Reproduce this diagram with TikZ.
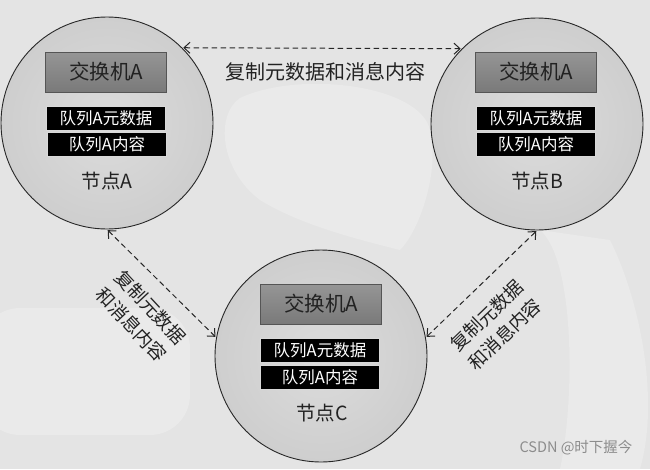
\documentclass[tikz,border=0pt]{standalone}
\usepackage{fontspec}
\setmainfont{Noto Sans CJK SC}
\usetikzlibrary{arrows.meta,shapes.geometric}
\definecolor{bggray}{HTML}{E4E4E4}
\definecolor{bglight}{HTML}{EAEAEA}
\definecolor{nodein}{HTML}{DCDCDC}
\definecolor{nodeout}{HTML}{CECECE}
\definecolor{switchfill}{HTML}{878787}
\definecolor{switchdraw}{HTML}{555555}
\definecolor{textdark}{HTML}{222222}
\tikzset{
  nodecircle/.style={circle, draw=black!85, line width=0.9pt, inner color=nodein, outer color=nodeout, minimum size=212pt, inner sep=0pt},
  switchbox/.style={draw=switchdraw, line width=0.8pt, top color=switchfill!88!white, bottom color=switchfill!90!black, minimum width=121pt, minimum height=40pt, inner sep=0pt, font=\fontsize{20.5}{23}\selectfont, text=textdark},
  queuebox/.style={draw=white!85!black, line width=0.9pt, fill=black, text=white, minimum width=119pt, minimum height=24pt, inner sep=0pt, font=\fontsize{16.5}{19}\selectfont},
  nodelabel/.style={font=\fontsize{19.5}{22}\selectfont, text=textdark},
  linklabel/.style={font=\fontsize{20}{22}\selectfont, text=textdark, align=center},
  rotlabel/.style={font=\fontsize{18.5}{26}\selectfont, text=textdark, align=center},
  syncline/.style={dash pattern=on 5.5pt off 3.5pt, line width=1pt, draw=black!85, {Straight Barb[length=6pt,width=11pt]}-{Straight Barb[length=6pt,width=11pt]}, shorten <=1pt, shorten >=1pt}
}
\begin{document}
\begin{tikzpicture}[x=1pt,y=-1pt]
\useasboundingbox (0,0) rectangle (650,469);
% background
\fill[bggray] (0,0) rectangle (650,469);
\fill[bglight] (240,98) .. controls (300,70) and (420,85) .. (430,130) .. controls (440,170) and (420,230) .. (400,250) .. controls (360,240) and (300,225) .. (260,200) .. controls (220,170) and (215,115) .. (240,98);
\fill[bglight, rounded corners=40pt] (-20,308) rectangle (190,435);
\fill[bglight] (540,230) .. controls (575,260) and (575,400) .. (560,469) -- (640,469) .. controls (660,400) and (640,300) .. (610,240) -- cycle;
% circles
\node[nodecircle] (A) at (107,123) {};
\node[nodecircle] (B) at (537,124) {};
\node[nodecircle] (C) at (321,356) {};
% node A contents
\node[switchbox] (swA) at (106,72) {交换机A};
\node[queuebox] (qmA) at (106,118) {队列A元数据};
\node[queuebox] (qcA) at (107,144) {队列A内容};
\node[nodelabel] (lA) at (107,181) {节点A};
% node B contents
\node[switchbox] (swB) at (536,72) {交换机A};
\node[queuebox] (qmB) at (536,118) {队列A元数据};
\node[queuebox] (qcB) at (536,144) {队列A内容};
\node[nodelabel] (lB) at (537,181) {节点B};
% node C contents
\node[switchbox] (swC) at (321,304) {交换机A};
\node[queuebox] (qmC) at (320,350) {队列A元数据};
\node[queuebox] (qcC) at (320,377) {队列A内容};
\node[nodelabel] (lC) at (322,413) {节点C};
% connectors
\draw[syncline] (A.45) -- (B.135);
\draw[syncline] (A.south) -- (C.170);
\draw[syncline] (C.10) -- (B.south);
% labels
\node[linklabel] (tAB) at (325,72) {复制元数据和消息内容};
\node[rotlabel, rotate=-47] (tAC) at (141,316) {复制元数据\\和消息内容};
\node[rotlabel, rotate=44] (tCB) at (496,325) {复制元数据\\和消息内容};
% watermark
\node[anchor=east, font=\fontsize{14.5}{17}\selectfont, text=black!45] (wm) at (636,448) {CSDN @时下握今};
\end{tikzpicture}
\end{document}
